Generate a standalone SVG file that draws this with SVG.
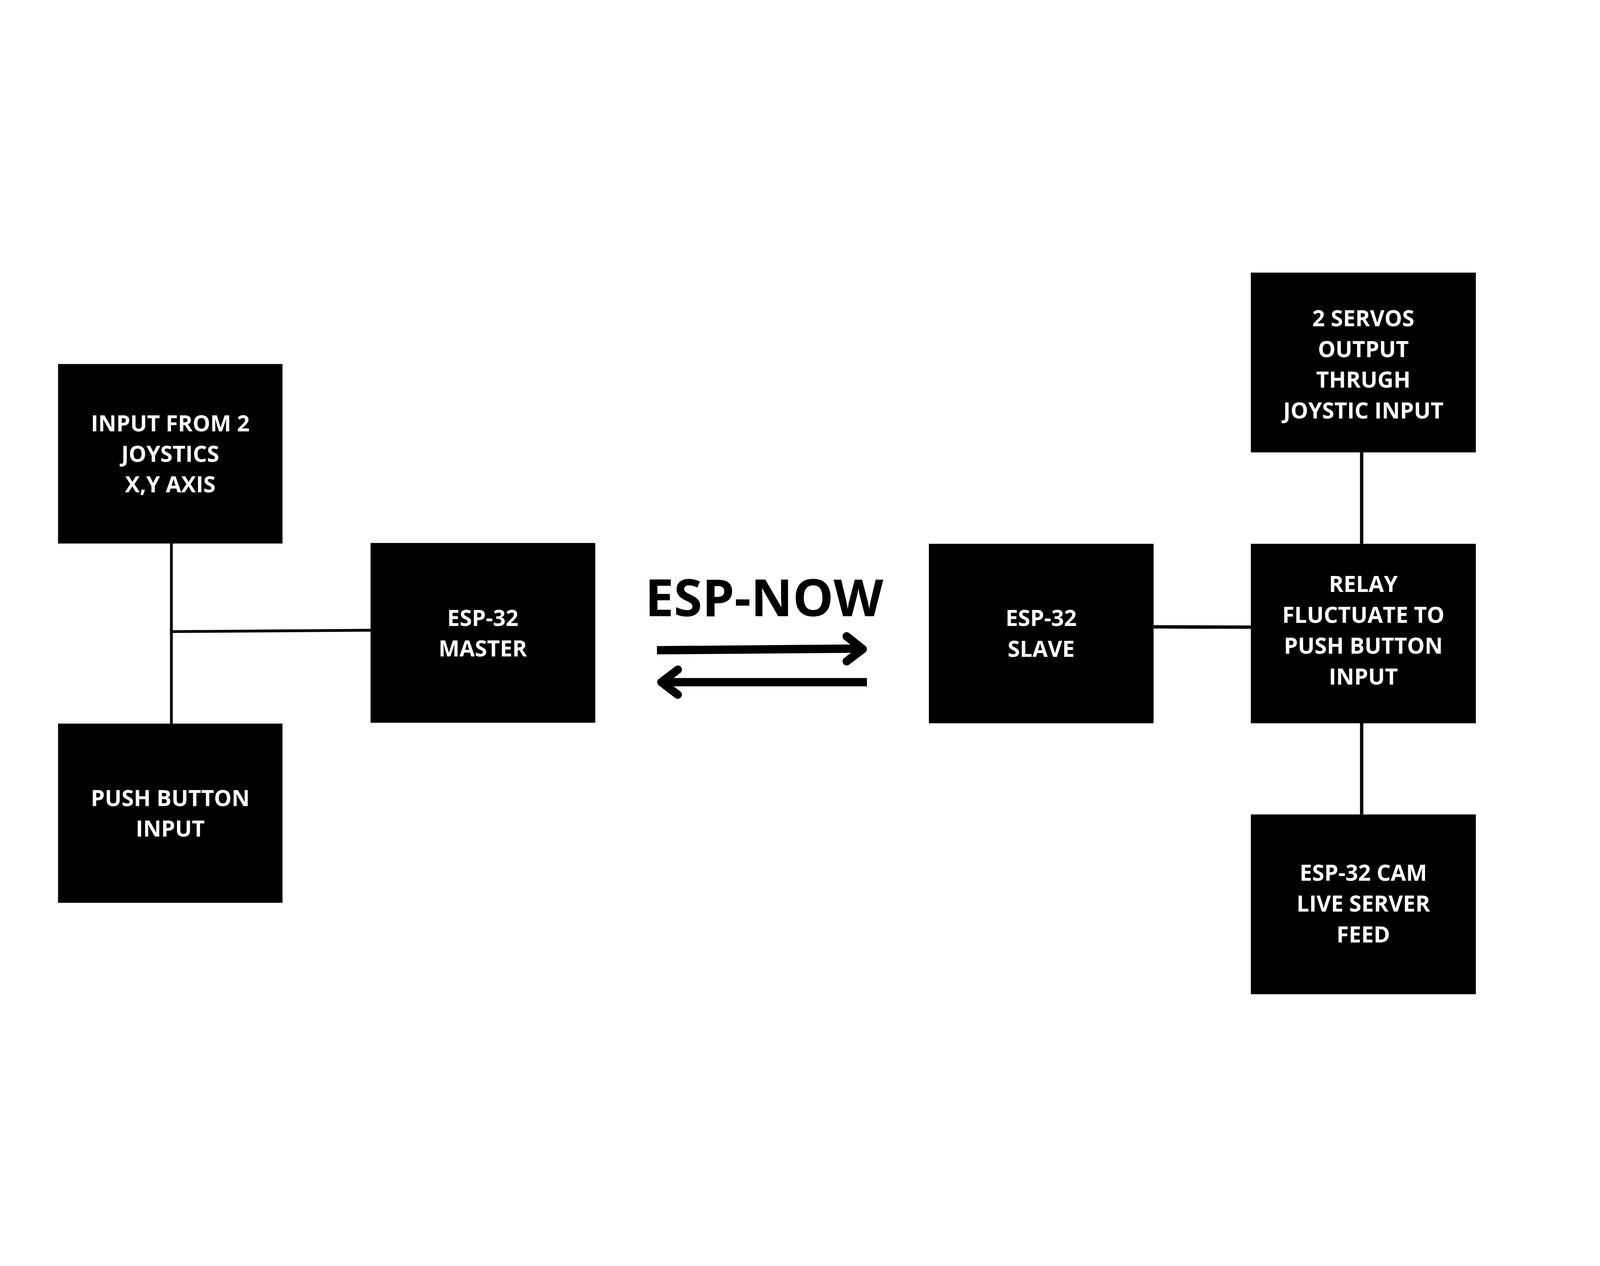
<svg xmlns="http://www.w3.org/2000/svg" width="5760" height="3240" viewBox="0 0 5760 3240" style="max-width:100vw;max-height:100vh">
<style>
.box{fill:#000}
.t{fill:#fff;font-family:"Open Sans","Noto Sans","Liberation Sans",sans-serif;font-weight:700;font-size:80px;text-anchor:middle}
.ln{stroke:#000;fill:none}
.title{fill:#000;font-family:"Open Sans","Noto Sans","Liberation Sans",sans-serif;font-weight:700;font-size:185px;text-anchor:middle}
</style>
<rect width="5760" height="3240" fill="#fff"/>
<g id="connectors">
<line class="ln" x1="617" y1="1298" x2="617" y2="1946" stroke-width="10"/>
<line class="ln" x1="612" y1="1615" x2="1334" y2="1610" stroke-width="10"/>
<line class="ln" x1="4153" y1="1598" x2="4503" y2="1599" stroke-width="12"/>
<line class="ln" x1="4902" y1="970" x2="4902" y2="1299" stroke-width="12"/>
<line class="ln" x1="4902" y1="1945" x2="4902" y2="2273" stroke-width="12"/>
</g>
<g id="esp-now">
<text class="title" x="2751" y="1559">ESP-NOW</text>
<line class="ln" x1="2365" y1="1682" x2="3100" y2="1676" stroke-width="30"/>
<path class="ln" d="M3048,1632 L3106,1678 L3048,1722" stroke-width="30" stroke-linecap="round" stroke-linejoin="round"/>
<line class="ln" x1="2390" y1="1797" x2="3121" y2="1797" stroke-width="30"/>
<path class="ln" d="M2440,1752 L2381,1797 L2440,1842" stroke-width="30" stroke-linecap="round" stroke-linejoin="round"/>
</g>
<g id="joystick">
<rect class="box" x="209" y="652" width="808" height="646"/>
<text class="t" x="613" y="894">INPUT FROM 2</text>
<text class="t" x="613" y="1004">JOYSTICS</text>
<text class="t" x="613" y="1114">X,Y AXIS</text>
</g>
<g id="pushbutton">
<rect class="box" x="209" y="1946" width="808" height="645"/>
<text class="t" x="613" y="2243">PUSH BUTTON</text>
<text class="t" x="613" y="2353">INPUT</text>
</g>
<g id="master">
<rect class="box" x="1334" y="1296" width="809" height="647"/>
<text class="t" x="1738" y="1594">ESP-32</text>
<text class="t" x="1738" y="1705">MASTER</text>
</g>
<g id="slave">
<rect class="box" x="3344" y="1299" width="809" height="646"/>
<text class="t" x="3748" y="1595">ESP-32</text>
<text class="t" x="3748" y="1706">SLAVE</text>
</g>
<g id="servos">
<rect class="box" x="4503" y="323" width="810" height="647"/>
<text class="t" x="4908" y="516">2 SERVOS</text>
<text class="t" x="4908" y="627">OUTPUT</text>
<text class="t" x="4908" y="737">THRUGH</text>
<text class="t" x="4908" y="848">JOYSTIC INPUT</text>
</g>
<g id="relay">
<rect class="box" x="4503" y="1299" width="810" height="646"/>
<text class="t" x="4908" y="1473">RELAY</text>
<text class="t" x="4908" y="1584">FLUCTUATE TO</text>
<text class="t" x="4908" y="1695">PUSH BUTTON</text>
<text class="t" x="4908" y="1805">INPUT</text>
</g>
<g id="cam">
<rect class="box" x="4503" y="2273" width="810" height="647"/>
<text class="t" x="4908" y="2512">ESP-32 CAM</text>
<text class="t" x="4908" y="2623">LIVE SERVER</text>
<text class="t" x="4908" y="2734">FEED</text>
</g>
</svg>
